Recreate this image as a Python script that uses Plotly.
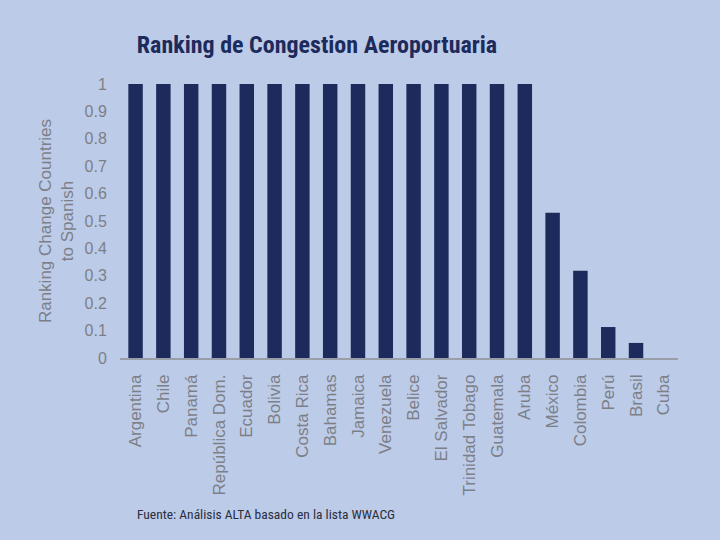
import plotly.graph_objects as go

countries = ["Argentina", "Chile", "Panamá", "República Dom.", "Ecuador", "Bolivia",
             "Costa Rica", "Bahamas", "Jamaica", "Venezuela", "Belice", "El Salvador",
             "Trinidad Tobago", "Guatemala", "Aruba", "México", "Colombia", "Perú",
             "Brasil", "Cuba"]
values = [1, 1, 1, 1, 1, 1, 1, 1, 1, 1, 1, 1, 1, 1, 1, 0.53, 0.318, 0.113, 0.055, 0]
y_ticks = [0, 0.1, 0.2, 0.3, 0.4, 0.5, 0.6, 0.7, 0.8, 0.9, 1]
y_tick_text = ["0", "0.1", "0.2", "0.3", "0.4", "0.5", "0.6", "0.7", "0.8", "0.9", "1"]

BG = "#BCCBE7"
BAR = "#1D2A5C"
GRAY = "#7C7F88"
SANS = "Liberation Sans"

fig = go.Figure(go.Bar(x=countries, y=values, marker=dict(color=BAR, line=dict(width=0)),
                       width=0.52))

fig.update_layout(
    width=720, height=540,
    paper_bgcolor=BG, plot_bgcolor=BG,
    margin=dict(l=120, r=42, t=84, b=182),
    showlegend=False,
    title=dict(text="<b>Ranking de Congestion Aeroportuaria</b>",
               font=dict(family="Liberation Sans Narrow, Roboto Condensed, Arial", size=24, color=BAR),
               x=0.19, xanchor="left", y=0.918, yanchor="middle"),
    font=dict(family=SANS, color=GRAY, size=17),
)
fig.update_xaxes(showgrid=False, showline=True, linecolor="#9A9EA8", linewidth=1.5,
                 tickangle=-90, ticks="outside", ticklen=8, tickcolor="rgba(0,0,0,0)",
                 tickfont=dict(family=SANS, size=17, color=GRAY), range=[-0.56, 19.51])
fig.update_yaxes(range=[0, 1.0], tickvals=y_ticks, ticktext=y_tick_text, showgrid=False,
                 zeroline=False, ticks="outside", ticklen=9, tickcolor="rgba(0,0,0,0)",
                 tickfont=dict(family=SANS, size=16, color=GRAY),
                 title=dict(text="Ranking Change Countries<br>to Spanish",
                            font=dict(family=SANS, size=17, color=GRAY), standoff=6))

fig.add_annotation(text="Fuente: Análisis ALTA basado en la lista WWACG",
                   xref="paper", yref="paper", x=0.027, y=-0.569, xanchor="left", yanchor="middle",
                   showarrow=False,
                   font=dict(family="Liberation Sans Narrow, Roboto Condensed, Arial", size=13.5, color="#2A2E40"))

fig.write_html("out.html", config={"displayModeBar": False},
               post_script="document.body.style.margin='0';document.body.style.background='" + BG + "';")
